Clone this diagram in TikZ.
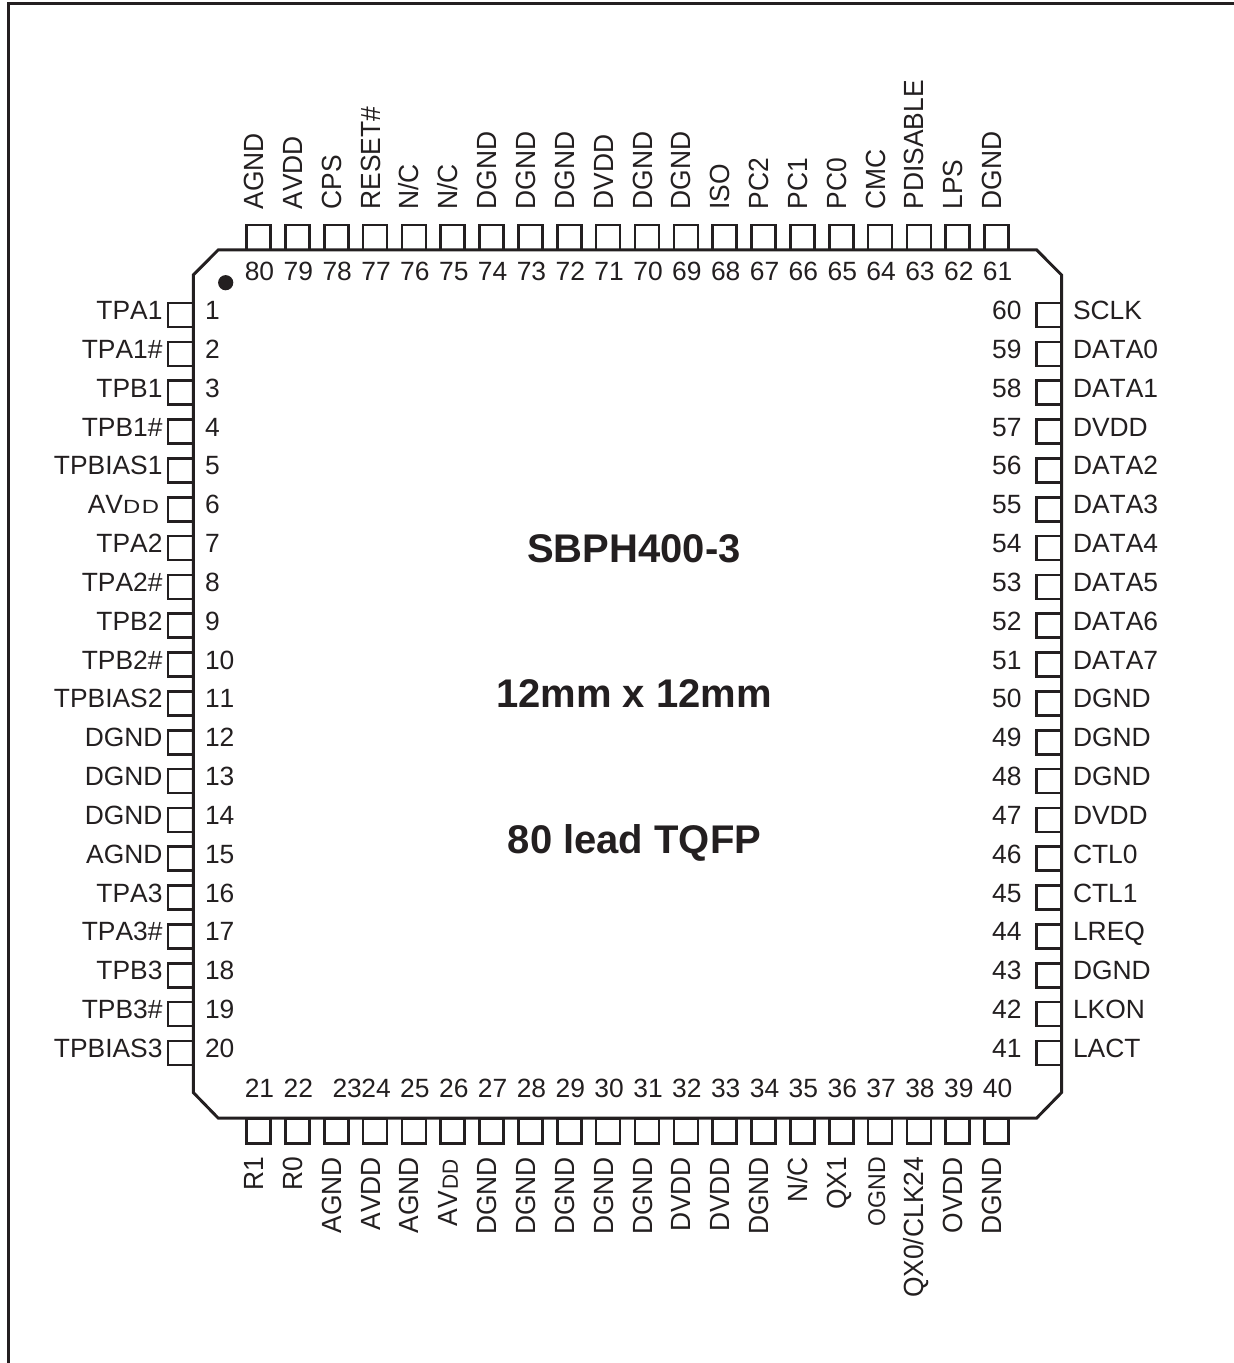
\documentclass[tikz,border=0pt]{standalone}
\usepackage{fontspec}
\setmainfont[Kerning=Off]{Liberation Sans}
\definecolor{ink}{HTML}{231F20}
\newcommand{\txtfont}{\fontsize{19.8pt}{22pt}\selectfont}
\newcommand{\titlefont}{\fontsize{30pt}{34pt}\selectfont\bfseries}
\newcommand{\avddleft}{AV\scalebox{1.25}[1]{\fontsize{14.3pt}{16pt}\selectfont D\kern1pt D}\kern2.5pt}
\newcommand{\avddbottom}{AV\kern1pt{\fontsize{15.7pt}{16pt}\selectfont D\kern0.5pt D}\kern1.5pt}
\newcommand{\ognd}{\fontsize{17.3pt}{20pt}\selectfont OGND}
\newcommand{\capfit}[1]{\scalebox{1}[1.05]{#1}}
\tikzset{
  px/.style={x=0.75pt,y=-0.75pt},
  hpin/.style={draw=ink,line width=2pt,inner sep=0pt,outer sep=0pt,minimum width=18.75pt,minimum height=18pt},
  vpin/.style={draw=ink,line width=2pt,inner sep=0pt,outer sep=0pt,minimum width=18pt,minimum height=18.75pt},
  txt/.style={text=ink,inner sep=0pt,outer sep=0pt,font=\txtfont},
  title/.style={text=ink,inner sep=0pt,outer sep=0pt,font=\titlefont,anchor=base},
}
\begin{document}
\begin{tikzpicture}[px]
\useasboundingbox (0,0) rectangle (1234,1363);
% frame
\draw[ink,line width=2.2pt] (8.7,1363) -- (8.7,3.6) -- (1234,3.6);
% package body
\draw[ink,line width=2.2pt,line join=miter]
  (218.3,249.8) -- (1036.5,249.8) -- (1061.6,275) -- (1061.6,1092.5)
  -- (1036.5,1118.2) -- (218.3,1118.2) -- (193.3,1092.5) -- (193.3,275) -- cycle;
\fill[ink] (225.7,282.7) circle[radius=7.6];
% left side
\foreach \n/\t in {1/TPA1,2/TPA1\#,3/TPB1,4/TPB1\#,5/TPBIAS1,6/{\avddleft},7/TPA2,8/TPA2\#,9/TPB2,10/TPB2\#,11/TPBIAS2,12/DGND,13/DGND,14/DGND,15/AGND,16/TPA3,17/TPA3\#,18/TPB3,19/TPB3\#,20/TPBIAS3}{
  \pgfmathsetmacro\yy{315+38.84*(\n-1)}
  \node[hpin] (pin\n) at (180.6,\yy) {};
  \node[txt,anchor=base east] (lab\n) at (162.5,\yy+4.5) {\t};
  \node[txt,anchor=base west] (num\n) at (205,\yy+4.5) {\n};
}
% right side
\foreach \n/\t in {60/SCLK,59/DATA0,58/DATA1,57/DVDD,56/DATA2,55/DATA3,54/DATA4,53/DATA5,52/DATA6,51/DATA7,50/DGND,49/DGND,48/DGND,47/DVDD,46/CTL0,45/CTL1,44/LREQ,43/DGND,42/LKON,41/LACT}{
  \pgfmathsetmacro\yy{315+38.84*(60-\n)}
  \node[hpin] (pin\n) at (1049,\yy) {};
  \node[txt,anchor=base west] (lab\n) at (1073,\yy+4.5) {\t};
  \node[txt,anchor=base east] (num\n) at (1021.5,\yy+4.5) {\n};
}
% top side
\foreach \n/\t in {80/AGND,79/AVDD,78/CPS,77/RESET\#,76/{N/C},75/{N/C},74/DGND,73/DGND,72/DGND,71/DVDD,70/DGND,69/DGND,68/ISO,67/PC2,66/PC1,65/PC0,64/CMC,63/PDISABLE,62/LPS,61/DGND}{
  \pgfmathsetmacro\xx{258.5+38.85*(80-\n)}
  \node[vpin] (pin\n) at (\xx,237.5) {};
  \node[txt,rotate=90,anchor=base west] (lab\n) at (\xx+5,209.5) {\capfit{\t}};
  \node[txt,anchor=base] (num\n) at (\xx+1,280.5) {\n};
}
% bottom side
\foreach \n/\t in {21/R1,22/R0,23/AGND,24/AVDD,25/AGND,26/{\avddbottom},27/DGND,28/DGND,29/DGND,30/DGND,31/DGND,32/DVDD,33/DVDD,34/DGND,35/{N/C},36/QX1,37/{\ognd},38/{QX0/CLK24},39/OVDD,40/DGND}{
  \pgfmathsetmacro\xx{258.5+38.85*(\n-21)}
  \pgfmathsetmacro\nx{\xx+1+(\n==23?10:0)}
  \node[vpin] (pin\n) at (\xx,1130.8) {};
  \node[txt,rotate=90,anchor=base east] (lab\n) at (\xx+5,1157) {\capfit{\t}};
  \node[txt,anchor=base] (num\n) at (\nx,1097) {\n};
}
% titles
\node[title] (t1) at (634,562) {SBPH400-3};
\node[title] (t2) at (634,707) {12mm x 12mm};
\node[title] (t3) at (634.5,853) {80 lead TQFP};
\end{tikzpicture}
\end{document}
